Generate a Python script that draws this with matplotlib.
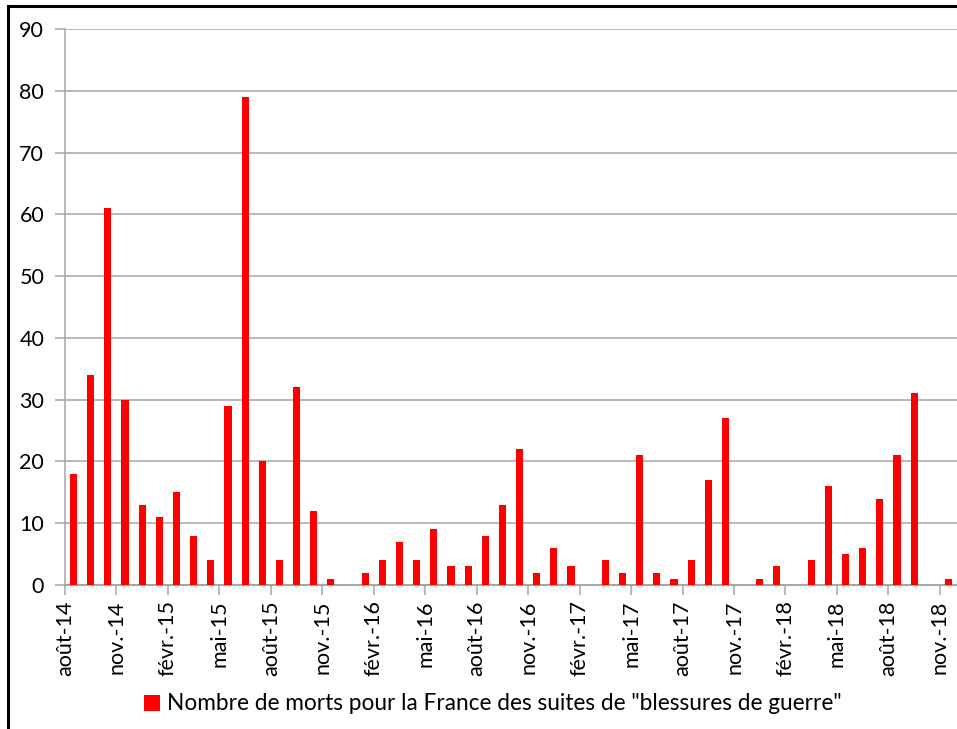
import matplotlib
matplotlib.use("Agg")
import matplotlib.pyplot as plt
from matplotlib.lines import Line2D
from matplotlib.patches import Patch

plt.rcParams['font.family'] = ['Lato', 'DejaVu Sans']

# Monthly values, August 2014 to November 2018
months = ['2014-08', '2014-09', '2014-10', '2014-11', '2014-12',
          '2015-01', '2015-02', '2015-03', '2015-04', '2015-05', '2015-06',
          '2015-07', '2015-08', '2015-09', '2015-10', '2015-11', '2015-12',
          '2016-01', '2016-02', '2016-03', '2016-04', '2016-05', '2016-06',
          '2016-07', '2016-08', '2016-09', '2016-10', '2016-11', '2016-12',
          '2017-01', '2017-02', '2017-03', '2017-04', '2017-05', '2017-06',
          '2017-07', '2017-08', '2017-09', '2017-10', '2017-11', '2017-12',
          '2018-01', '2018-02', '2018-03', '2018-04', '2018-05', '2018-06',
          '2018-07', '2018-08', '2018-09', '2018-10', '2018-11']
deaths = [18, 34, 61, 30, 13,
          11, 15, 8, 4, 29, 79,
          20, 4, 32, 12, 1, 0,
          2, 4, 7, 4, 9, 3,
          3, 8, 13, 22, 2, 6,
          3, 0, 4, 2, 21, 2,
          1, 4, 17, 27, 0, 1,
          3, 0, 4, 16, 5, 6,
          14, 21, 31, 0, 1]
tick_labels = ['août-14', 'nov.-14', 'févr.-15', 'mai-15', 'août-15', 'nov.-15',
               'févr.-16', 'mai-16', 'août-16', 'nov.-16', 'févr.-17', 'mai-17',
               'août-17', 'nov.-17', 'févr.-18', 'mai-18', 'août-18', 'nov.-18']
series_label = 'Nombre de morts pour la France des suites de "blessures de guerre"'
yticks = [0, 10, 20, 30, 40, 50, 60, 70, 80, 90]

W, H = 957, 729
fig = plt.figure(figsize=(W / 100, H / 100), dpi=100)
left, right, top, bottom = 65, 957, 29, 585
ax = fig.add_axes([left / W, 1 - bottom / H, (right - left) / W, (bottom - top) / H])

x = [i + 0.5 for i in range(len(deaths))]
ax.bar(x, deaths, width=0.42, color='#ff0000', zorder=3)

ax.set_xlim(0, len(months))
ax.set_ylim(0, 90)
ax.set_yticks(yticks)
ax.set_yticklabels([str(v) for v in yticks], fontsize=15.5)
ax.set_xticks(list(range(0, len(months), 3)))
ax.set_xticklabels(tick_labels, rotation=90, fontsize=15.5)

grid_c = '#a6a6a6'
ax.yaxis.grid(True, color=grid_c, linewidth=1.1, zorder=0)
for s in ['top', 'right']:
    ax.spines[s].set_visible(False)
ax.spines['left'].set_color(grid_c)
ax.spines['bottom'].set_color(grid_c)
ax.spines['left'].set_linewidth(1.1)
ax.spines['bottom'].set_linewidth(1.5)
ax.tick_params(axis='y', length=7, color=grid_c, width=1.1, pad=8, labelcolor='black')
ax.tick_params(axis='x', length=7, color=grid_c, width=1.1, pad=4, labelcolor='black')

# Chart frame (left and top edges)
fig.add_artist(Line2D([8 / W, 8 / W], [0, 1 - 6 / H], color='black', linewidth=2.2,
                      transform=fig.transFigure))
fig.add_artist(Line2D([8 / W, 1], [1 - 6 / H, 1 - 6 / H], color='black', linewidth=2.2,
                      transform=fig.transFigure))

handle = Patch(facecolor='#ff0000', edgecolor='none')
fig.legend([handle], [series_label], loc='center',
           bbox_to_anchor=(493 / W, 1 - 704 / H), frameon=False, fontsize=16.3,
           handlelength=0.7, handleheight=0.7, handletextpad=0.3)

fig.savefig('out.png', dpi=100)
